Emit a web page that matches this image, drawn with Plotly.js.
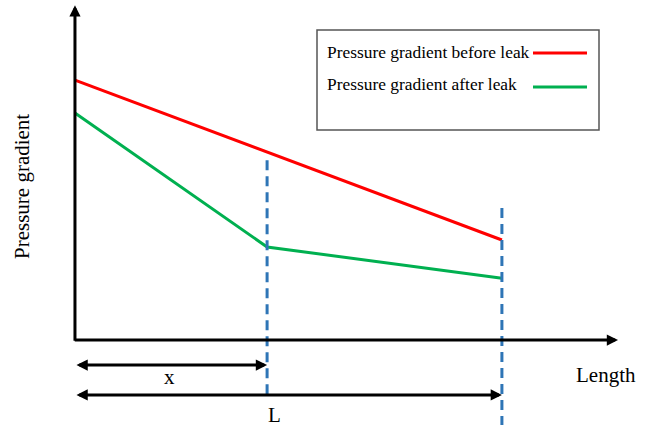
<!DOCTYPE html>
<html><head><meta charset="utf-8">
<script src="https://cdn.plot.ly/plotly-3.0.1.min.js"></script>
<style>html,body{margin:0;padding:0;background:#fff}#chart{width:665px;height:429px}</style>
</head><body><div id="chart"></div>
<script>
// Schematic values (arbitrary units)
const positions = [0, 4.5, 10];            // inlet, leak point x, pipe end L
const beforeLeak = [10, 7.23, 3.85];
const afterLeak = [8.73, 3.58, 2.38];
const seriesNames = ['Pressure gradient before leak', 'Pressure gradient after leak'];
const xAxisLabel = 'Length';
const yAxisLabel = 'Pressure gradient';
const leakLabel = 'x';
const lengthLabel = 'L';

const W = 665, H = 429;
const px = v => v / W, py = v => 1 - v / H;
const FONT = 'Liberation Serif, Times New Roman, serif';
const RED = '#FF0000', GREEN = '#00B050', BLUE = '#2E75B6';
const xLeak = positions[1], xEnd = positions[2];

const traces = [
  {x: positions, y: beforeLeak, mode: 'lines', line: {color: RED, width: 3}, name: seriesNames[0], hoverinfo: 'skip'},
  {x: positions, y: afterLeak, mode: 'lines', line: {color: GREEN, width: 3}, name: seriesNames[1], hoverinfo: 'skip'}
];

const shapes = [
  {type: 'line', xref: 'x', yref: 'y', x0: xLeak, x1: xLeak, y0: 6.92, y1: -2.12, line: {color: BLUE, width: 3, dash: '10px,6px'}},
  {type: 'line', xref: 'x', yref: 'y', x0: xEnd, x1: xEnd, y0: 5.08, y1: -3.27, line: {color: BLUE, width: 3, dash: '10px,6px'}},
  {type: 'rect', xref: 'paper', yref: 'paper', x0: px(317), x1: px(599), y0: py(130), y1: py(30), line: {color: '#555', width: 1.5}, fillcolor: 'rgba(0,0,0,0)'},
  {type: 'line', xref: 'paper', yref: 'paper', x0: px(533), x1: px(587), y0: py(53), y1: py(53), line: {color: RED, width: 3}},
  {type: 'line', xref: 'paper', yref: 'paper', x0: px(533), x1: px(587), y0: py(87), y1: py(87), line: {color: GREEN, width: 3}}
];

function arrow(x, y, ax, ay, both) {
  const a = {xref: 'x', yref: 'y', axref: 'x', ayref: 'y', x: x, y: y, ax: ax, ay: ay, text: '',
    showarrow: true, arrowhead: 2, arrowsize: 0.75, arrowwidth: 3, arrowcolor: '#000', standoff: 0, startstandoff: 0};
  if (both) { a.arrowside = 'end+start'; a.startarrowhead = 2; a.startarrowsize = 0.75; }
  return a;
}

const txt = (t, x, y, size, opts) => Object.assign({xref: 'paper', yref: 'paper', x: px(x), y: py(y), text: t, showarrow: false,
  font: {family: FONT, size: size, color: '#000'}, xanchor: 'center', yanchor: 'middle'}, opts || {});

const annotations = [
  arrow(0, 12.88, 0, -0.08),
  arrow(12.72, 0, -0.04, 0),
  arrow(xLeak, -0.96, 0, -0.96, true),
  arrow(xEnd, -2.11, 0, -2.11, true),
  txt(seriesNames[0], 325, 52, 17.4, {xanchor: 'left'}),
  txt(seriesNames[1], 325, 84, 17.4, {xanchor: 'left'}),
  txt(xAxisLabel, 606, 375, 21),
  txt(yAxisLabel, 22, 187, 21, {textangle: -90}),
  txt(leakLabel, 169, 377, 21),
  txt(lengthLabel, 274, 415, 21)
];

const layout = {
  width: W, height: H, margin: {l: 0, r: 0, t: 0, b: 0},
  paper_bgcolor: '#fff', plot_bgcolor: '#fff', showlegend: false,
  xaxis: {range: [-1.756, 13.82], visible: false, fixedrange: true},
  yaxis: {range: [-3.42, 13.08], visible: false, fixedrange: true},
  shapes: shapes, annotations: annotations
};
Plotly.newPlot('chart', traces, layout, {staticPlot: true, displayModeBar: false});
</script></body></html>
